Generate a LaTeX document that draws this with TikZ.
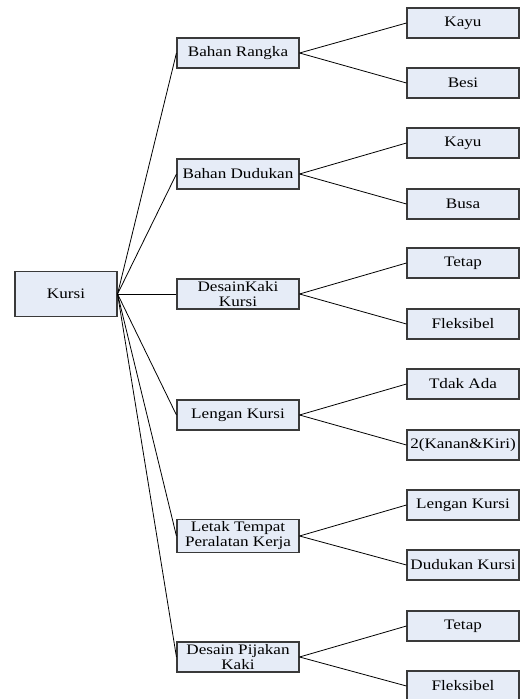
\documentclass[tikz,border=0pt]{standalone}
\usepackage{fontspec}
\setmainfont[FakeStretch=1.18]{Liberation Serif}
\usetikzlibrary{positioning}
\definecolor{kotak}{HTML}{E6ECF7}
\definecolor{garis}{HTML}{3A3A3A}

\begin{document}
\begin{tikzpicture}[x=1pt, y=-1pt,
      font=\fontsize{14.5}{15}\selectfont,
      k/.style={draw=garis, fill=kotak, line width=1.1pt, align=center, inner sep=0pt},
      pusat/.style={k, minimum width=102pt, minimum height=45pt},
      aspek/.style={k, minimum width=122pt, minimum height=30pt},
      pilih/.style={k, minimum width=112pt, minimum height=30pt},
      h/.style={line width=0.8pt}]

    \useasboundingbox (0,0) rectangle (521,699);

    % akar
    \node[pusat] (kursi) at (66,294) {Kursi};

    % aspek
    \node[aspek] (rangka) at (238,53)  {Bahan Rangka};
    \node[aspek] (duduk)  at (238,174) {Bahan Dudukan};
    \node[aspek] (kaki)   at (238,294) {DesainKaki\\Kursi};
    \node[aspek] (lengan) at (238,415) {Lengan Kursi};
    \node[aspek, minimum height=33pt] (letak) at (238,536) {Letak Tempat\\Peralatan Kerja};
    \node[aspek] (pijak)  at (238,657) {Desain Pijakan\\Kaki};

    % alternatif
    \node[pilih] (r1) at (463,23)  {Kayu};
    \node[pilih] (r2) at (463,83)  {Besi};
    \node[pilih] (d1) at (463,143) {Kayu};
    \node[pilih] (d2) at (463,204) {Busa};
    \node[pilih] (k1) at (463,263) {Tetap};
    \node[pilih] (k2) at (463,324) {Fleksibel};
    \node[pilih] (l1) at (463,384) {Tdak Ada};
    \node[pilih] (l2) at (463,445) {2(Kanan\&Kiri)};
    \node[pilih] (t1) at (463,505) {Lengan Kursi};
    \node[pilih] (t2) at (463,565) {Dudukan Kursi};
    \node[pilih] (p1) at (463,626) {Tetap};
    \node[pilih] (p2) at (463,686) {Fleksibel};

    % kursi ke aspek
    \draw[h] (kursi.east) -- (rangka.west);
    \draw[h] (kursi.east) -- (duduk.west);
    \draw[h] (kursi.east) -- (kaki.west);
    \draw[h] (kursi.east) -- (lengan.west);
    \draw[h] (kursi.east) -- (letak.west);
    \draw[h] (kursi.east) -- (pijak.west);

    % aspek ke alternatif
    \draw[h] (rangka.east) -- (r1.west);
    \draw[h] (rangka.east) -- (r2.west);
    \draw[h] (duduk.east) -- (d1.west);
    \draw[h] (duduk.east) -- (d2.west);
    \draw[h] (kaki.east) -- (k1.west);
    \draw[h] (kaki.east) -- (k2.west);
    \draw[h] (lengan.east) -- (l1.west);
    \draw[h] (lengan.east) -- (l2.west);
    \draw[h] (letak.east) -- (t1.west);
    \draw[h] (letak.east) -- (t2.west);
    \draw[h] (pijak.east) -- (p1.west);
    \draw[h] (pijak.east) -- (p2.west);
  \end{tikzpicture}
\end{document}
